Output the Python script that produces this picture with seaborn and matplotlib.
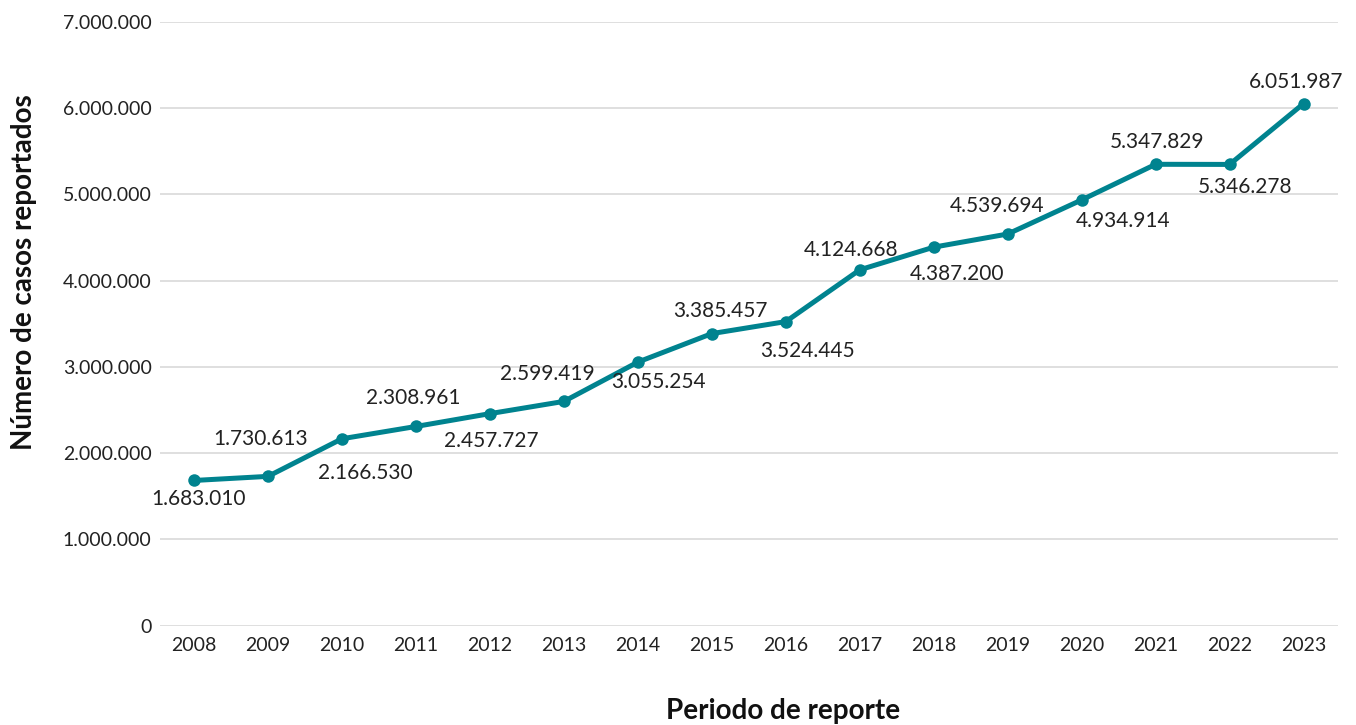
import matplotlib
matplotlib.use("Agg")
import matplotlib.pyplot as plt
import matplotlib.ticker as mticker
import seaborn as sns
import pandas as pd

# -- data --
years = ["2008", "2009", "2010", "2011", "2012", "2013", "2014", "2015",
         "2016", "2017", "2018", "2019", "2020", "2021", "2022", "2023"]
cases = [1683010, 1730613, 2166530, 2308961, 2457727, 2599419, 3055254, 3385457,
         3524445, 4124668, 4387200, 4539694, 4934914, 5347829, 5346278, 6051987]

# label offsets in pixels (dx, dy), only for placement of value labels
label_offsets = [(4, -19), (-7, 37), (23, -34), (-3, 28), (1, -27), (-17, 27),
                 (21, -20), (9, 23), (22, -29), (-9, 20), (23, -27), (-11, 28),
                 (41, -21), (1, 22), (15, -23), (-7, 22)]

def fmt_dots(v, pos=None):
    return f"{int(v):,}".replace(",", ".")

df = pd.DataFrame({"year": years, "cases": cases})

sns.set_theme(style="white")
plt.rcParams["font.family"] = ["Lato", "DejaVu Sans"]

fig = plt.figure(figsize=(13.56, 7.25), dpi=100)
ax = fig.add_axes([0.118, 0.137, 0.869, 0.833])

color = "#00838F"
sns.lineplot(data=df, x="year", y="cases", ax=ax, color=color, linewidth=3.6,
             marker="o", markersize=9, markeredgewidth=0, sort=False)

for i, (y, v) in enumerate(zip(years, cases)):
    dx, dy = label_offsets[i]
    ax.annotate(fmt_dots(v), (i, v), xytext=(dx, dy), textcoords="offset pixels",
                ha="center", va="center", fontsize=15, color="#222222")

ax.set_ylim(0, 7000000)
ax.set_xlim(-0.46, len(years) - 1 + 0.47)
ax.yaxis.set_major_locator(mticker.MultipleLocator(1000000))
ax.yaxis.set_major_formatter(mticker.FuncFormatter(fmt_dots))
ax.grid(axis="y", color="#d9d9d9", linewidth=1.2)
ax.set_axisbelow(True)
for s in ax.spines.values():
    s.set_visible(False)
ax.tick_params(axis="both", length=0, labelsize=14, labelcolor="#222222")
ax.tick_params(axis="y", pad=6)
ax.tick_params(axis="x", pad=8)

ax.set_xlabel("Periodo de reporte", fontsize=20, fontweight="bold", color="#111111")
ax.set_ylabel("Número de casos reportados", fontsize=20, fontweight="bold", color="#111111")
ax.xaxis.set_label_coords(0.529, -0.12)
ax.yaxis.set_label_coords(-0.104, 0.586)

fig.savefig("out.png", dpi=100)
